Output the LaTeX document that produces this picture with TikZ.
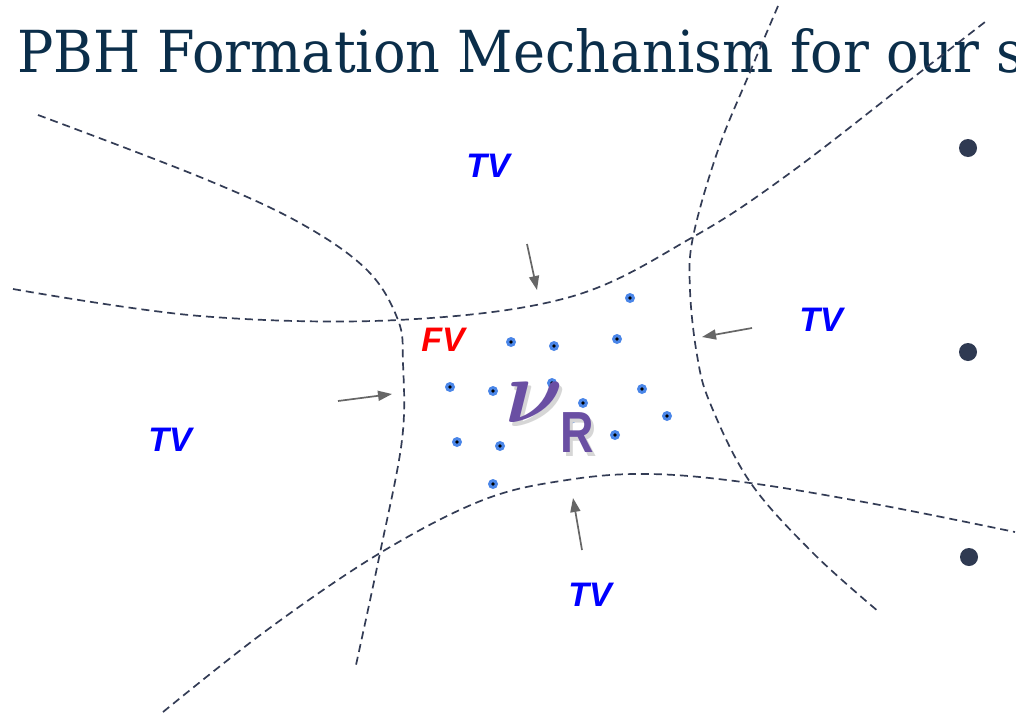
\documentclass[tikz,border=0pt]{standalone}
\usepackage{fontspec}
\usetikzlibrary{arrows.meta}
\newfontfamily\labfont{Liberation Sans}
\newfontfamily\titlefont{DejaVu Serif}
\definecolor{titleblue}{HTML}{0B2E4A}
\definecolor{linecol}{HTML}{333C55}
\definecolor{arrcol}{HTML}{666666}
\definecolor{dotblue}{HTML}{4A86E8}
\definecolor{nucol}{HTML}{6A4FA3}
\definecolor{bulcol}{HTML}{2F3A52}
\definecolor{shcol}{HTML}{D6D6D6}
\newlength\tA
\newlength\tB
\newsavebox\nubox
\newsavebox\nushbox
\begin{document}
\settowidth\tA{\titlefont PBH Formation Mechanism for our}%
\settowidth\tB{\titlefont PBH Formation Mechanism for our s}%
\pgfmathsetmacro\tratio{\tB/\tA}%
\pgfmathsetmacro\tW{962*\tratio}%
\sbox\nubox{\textcolor{nucol}{\scalebox{9}{\boldmath$\nu$}}}%
\sbox\nushbox{\textcolor{shcol}{\scalebox{9}{\boldmath$\nu$}}}%
\begin{tikzpicture}[x=1pt,y=-1pt,
  bnd/.style={draw=linecol, line width=1.7pt, dash pattern=on 8pt off 5pt},
  arr/.style={draw=arrcol, line width=1.7pt, -{Triangle[length=14pt,width=10pt]}},
  tv/.style={text=blue, inner sep=0, font=\labfont\bfseries\itshape\fontsize{34}{34}\selectfont},
  fv/.style={text=red, inner sep=0, font=\labfont\bfseries\itshape\fontsize{34}{34}\selectfont},
  dot/.style={circle, fill=dotblue, minimum size=10pt, inner sep=0,
    path picture={\fill[black] (path picture bounding box.center) circle (1.8pt);}},
  bullet/.style={circle, fill=bulcol, minimum size=18pt, inner sep=0},
  nustyle/.style={inner sep=0},
  rstyle/.style={inner sep=0, font=\labfont\bfseries\fontsize{58}{58}\selectfont}]
\useasboundingbox (0,0) rectangle (1016,715);
\clip (0,0) rectangle (1016,715);
\fill[white] (0,0) rectangle (1016,715);
% title
\node[anchor=base west, inner sep=0, text=titleblue] (title) at (17,72)
  {\resizebox{\tW pt}{44pt}{\titlefont PBH Formation Mechanism for our s}};
% boundaries
\draw[bnd] plot[smooth, tension=0.6] coordinates {(38,115) (200,177) (300,223) (367,270) (398,320) (403,363) (402,440) (380,553) (356,665)};
\draw[bnd] plot[smooth, tension=0.6] coordinates {(13,289) (200,316) (398,320) (570,297) (693,237) (790,173) (923,70) (985,22)};
\draw[bnd] plot[smooth, tension=0.6] coordinates {(778,6) (750,72) (718,150) (693,237) (690,290) (697,355) (710,403) (750,482) (813,553) (879,612)};
\draw[bnd] plot[smooth, tension=0.6] coordinates {(163,712) (267,630) (380,553) (483,500) (567,480) (650,474) (750,483) (880,505) (1015,532)};
% arrows
\coordinate (a1s) at (527,244); \coordinate (a1e) at (537,290);
\coordinate (a2s) at (752,328); \coordinate (a2e) at (702,337);
\coordinate (a3s) at (338,401); \coordinate (a3e) at (392,394);
\coordinate (a4s) at (582,550); \coordinate (a4e) at (573,498);
\draw[arr] (a1s) -- (a1e);
\draw[arr] (a2s) -- (a2e);
\draw[arr] (a3s) -- (a3e);
\draw[arr] (a4s) -- (a4e);
% labels
\node[tv] (tv1) at (488,166) {TV};
\node[tv] (tv2) at (821,320) {TV};
\node[tv] (tv3) at (590,595) {TV};
\node[tv] (tv4) at (170,440) {TV};
\node[fv] (fv) at (443,340) {FV};
% dots
\node[dot] (d1) at (630,298) {};
\node[dot] (d2) at (511,342) {};
\node[dot] (d3) at (554,346) {};
\node[dot] (d4) at (617,339) {};
\node[dot] (d5) at (450,387) {};
\node[dot] (d6) at (493,391) {};
\node[dot] (d7) at (552,383) {};
\node[dot] (d8) at (583,403) {};
\node[dot] (d9) at (642,389) {};
\node[dot] (d10) at (667,416) {};
\node[dot] (d11) at (457,442) {};
\node[dot] (d12) at (500,446) {};
\node[dot] (d13) at (615,435) {};
\node[dot] (d14) at (493,484) {};
\node[dot] (d15) at (571,419) {};
% neutrino label
\node[nustyle] (nush) at (538,406) {\usebox\nushbox};
\node[rstyle, text=shcol] (Rsh) at (580,437) {\scalebox{0.8}[1]{R}};
\node[nustyle] (nu) at (535,402) {\usebox\nubox};
\node[rstyle, text=nucol] (R) at (577,433) {\scalebox{0.8}[1]{R}};
% bullets
\node[bullet] (b1) at (968,148) {};
\node[bullet] (b2) at (968,352) {};
\node[bullet] (b3) at (969,557) {};
\end{tikzpicture}
\end{document}
